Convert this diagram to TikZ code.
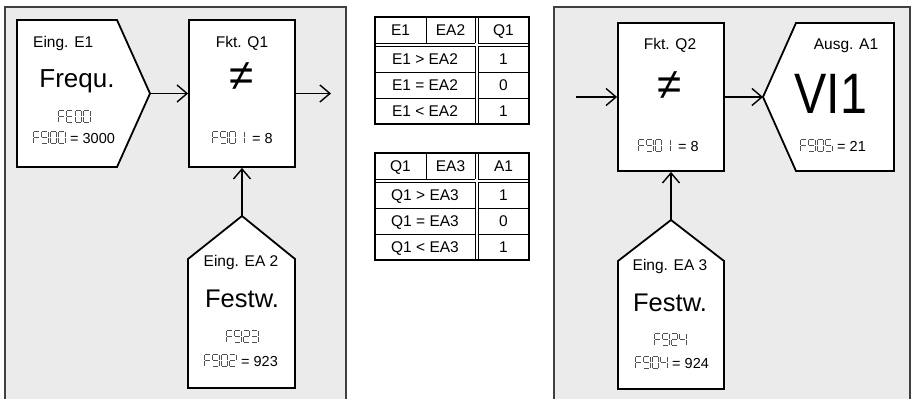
\documentclass[tikz,border=0pt]{standalone}
\usepackage{fontspec}
\setmainfont{Liberation Sans}
\usetikzlibrary{arrows.meta}
\definecolor{panelgray}{HTML}{EBEBEB}
\definecolor{panelline}{HTML}{404040}
\newcommand\fs[1]{\fontsize{#1}{#1}\selectfont}
% seven-segment glyphs (w=6.5, h=12, y downwards)
\newcommand\segA{\draw[segline] (0.9,0)--(5.6,0);}
\newcommand\segB{\draw[segline] (6.5,0.9)--(6.5,5.3);}
\newcommand\segC{\draw[segline] (6.5,6.7)--(6.5,11.1);}
\newcommand\segD{\draw[segline] (0.9,12)--(5.6,12);}
\newcommand\segE{\draw[segline] (0,6.7)--(0,11.1);}
\newcommand\segF{\draw[segline] (0,0.9)--(0,5.3);}
\newcommand\segG{\draw[segline] (0.9,6)--(5.6,6);}
\expandafter\newcommand\csname sgF\endcsname{\segA\segF\segE\segG}
\expandafter\newcommand\csname sgE\endcsname{\segA\segF\segE\segG\segD}
\expandafter\newcommand\csname sg0\endcsname{\segA\segB\segC\segD\segE\segF}
\expandafter\newcommand\csname sg1\endcsname{\segB\segC}
\expandafter\newcommand\csname sg2\endcsname{\segA\segB\segG\segE\segD}
\expandafter\newcommand\csname sg3\endcsname{\segA\segB\segG\segC\segD}
\expandafter\newcommand\csname sg4\endcsname{\segF\segG\segB\segC}
\expandafter\newcommand\csname sg5\endcsname{\segA\segF\segG\segC\segD}
\expandafter\newcommand\csname sg9\endcsname{\segA\segB\segC\segD\segF\segG}
\newcommand\sevseg[4]{\foreach \c [count=\i from 0] in {#4}{%
  \begin{scope}[shift={({#1+\i*#3},#2)}]\csname sg\c\endcsname\end{scope}}}
% truth table
\newcommand\ttab[7]{%
\begin{scope}[shift={(0,#1)}]
\fill[white] (375,17) rectangle (529,124);
\draw[tline] (426,17)--(426,43);
\draw[tline] (475,17)--(475,43) (478,17)--(478,43) (475,46)--(475,124) (478,46)--(478,124);
\draw[tline] (375,43)--(475,43) (375,46)--(475,46) (478,43)--(529,43) (478,46)--(529,46);
\draw[tline] (375,72)--(475,72) (478,72)--(529,72) (375,98)--(475,98) (478,98)--(529,98);
\draw[tborder] (375,17) rectangle (529,124);
\node[tt] (#2h1) at (400.5,30) {#3};
\node[tt] (#2h2) at (450.5,30) {#4};
\node[tt] (#2h3) at (503.5,30) {#5};
\node[tt] (#2r1) at (425,59) {#6 > #7};
\node[tt] (#2r2) at (425,85) {#6 = #7};
\node[tt] (#2r3) at (425,111) {#6 < #7};
\node[tt] (#2v1) at (503.5,59) {1};
\node[tt] (#2v2) at (503.5,85) {0};
\node[tt] (#2v3) at (503.5,111) {1};
\end{scope}}
\tikzset{
  segline/.style={line width=1pt, draw=black!68, line cap=butt},
  box/.style={draw=black, fill=white, line width=1.8pt, inner sep=0pt},
  shapeln/.style={draw=black, fill=white, line width=1.8pt, line join=miter},
  arr/.style={line width=1.4pt, -{Straight Barb[length=10pt,width=17pt,line width=1.4pt]}},
  lbl/.style={font=\fs{15.5}, inner sep=0pt, anchor=base},
  big/.style={font=\fs{25.5}, inner sep=0pt, anchor=base},
  val/.style={font=\fs{14.5}, inner sep=0pt, anchor=base west},
  opsym/.style={font=\fs{44}, inner sep=0pt},
  tline/.style={line width=1pt, draw=black},
  tborder/.style={line width=1.6pt, draw=black},
  tt/.style={font=\fs{15.5}, inner sep=0pt, text height=11pt, text depth=0pt},
}
\begin{document}
\begin{tikzpicture}[x=1pt, y=-1pt]
\useasboundingbox (0,0) rectangle (911,399);
% panels
\fill[panelgray] (5,7) rectangle (346,405);
\draw[panelline, line width=1.2pt] (5,405) -- (5,7) -- (346,7) -- (346,405);
\fill[panelgray] (554,7) rectangle (910,405);
\draw[panelline, line width=1.2pt] (554,405) -- (554,7) -- (910,7) -- (910,405);
% ---------- left panel ----------
\draw[shapeln] (17,20) -- (117,20) -- (150,93.5) -- (117,167) -- (17,167) -- cycle;
\coordinate (e1tip) at (150,93.5);
\node[lbl, anchor=base west] (e1lab) at (33,47) {Eing. E1};
\node[big, font=\fs{26}] (e1big) at (77,87) {Frequ.};
\sevseg{58}{110.5}{8.5}{F,E,0,0}
\sevseg{33}{131.5}{8.5}{F,9,0,0}
\node[val] (e1val) at (70,143.5) {= 3000};

\node[box, minimum width=106pt, minimum height=147pt] (q1) at (242,93.5) {};
\node[lbl] (q1lab) at (242,47) {Fkt. Q1};
\node[opsym] (q1op) at (242,77) {≠};
\sevseg{212}{131.5}{8.5}{F,9,0,1}
\node[val] (q1val) at (252,143.5) {= 8};

\draw[shapeln] (188,388) -- (188,259) -- (242,216) -- (295,259) -- (295,388) -- cycle;
\coordinate (ea2tip) at (242,216);
\node[lbl] (ea2lab) at (241,266) {Eing. EA 2};
\node[big] (ea2big) at (242,307) {Festw.};
\sevseg{226}{330.5}{8.5}{F,9,2,3}
\sevseg{204}{354.5}{8.5}{F,9,0,2}
\node[val] (ea2val) at (241,366.5) {= 923};

\coordinate (q1out) at (331,93.5);
\draw[arr] (e1tip) -- (q1.west);
\draw[arr] (q1.east) -- (q1out);
\draw[arr] (ea2tip) -- (q1.south);
% ---------- tables ----------
\ttab{0}{ta}{E1}{EA2}{Q1}{E1}{EA2}
\ttab{136}{tb}{Q1}{EA3}{A1}{Q1}{EA3}
% ---------- right panel ----------
\node[box, minimum width=106pt, minimum height=148pt] (q2) at (671,97) {};
\node[lbl] (q2lab) at (670,49) {Fkt. Q2};
\node[opsym] (q2op) at (670,86) {≠};
\sevseg{638}{139.5}{8.5}{F,9,0,1}
\node[val] (q2val) at (678,151.5) {= 8};

\draw[shapeln] (763,97) -- (796,23) -- (894,23) -- (894,171) -- (796,171) -- cycle;
\coordinate (a1tip) at (763,97);
\node[lbl] (a1lab) at (846,49) {Ausg. A1};
\node[inner sep=0pt, anchor=base, font=\fs{57}] (a1big) at (831,113) {\scalebox{0.85}[1]{VI1}};
\sevseg{800}{139.5}{8.5}{F,9,0,5}
\node[val] (a1val) at (837,151.5) {= 21};

\draw[shapeln] (618,389) -- (618,261) -- (671,220) -- (724,261) -- (724,389) -- cycle;
\coordinate (ea3tip) at (671,220);
\node[lbl] (ea3lab) at (670,270) {Eing. EA 3};
\node[big] (ea3big) at (670,311) {Festw.};
\sevseg{654}{333.5}{8.5}{F,9,2,4}
\sevseg{635}{356.5}{8.5}{F,9,0,4}
\node[val] (ea3val) at (672,368.5) {= 924};

\coordinate (q2in) at (576,97);
\draw[arr] (q2in) -- (q2.west);
\draw[arr] (q2.east) -- (a1tip);
\draw[arr] (ea3tip) -- (q2.south);
\end{tikzpicture}
\end{document}
